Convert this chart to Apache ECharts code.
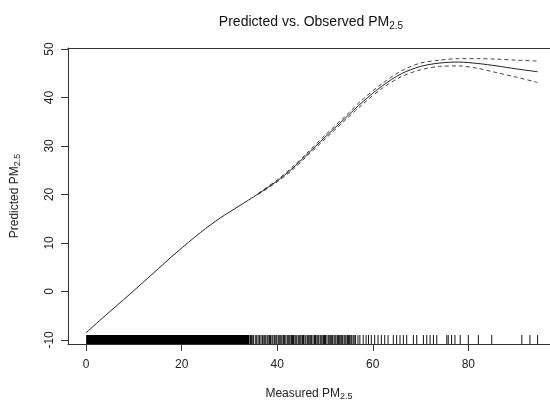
<!DOCTYPE html>
<html>
<head>
<meta charset="utf-8">
<script src="https://cdn.jsdelivr.net/npm/echarts@6/dist/echarts.min.js"></script>
<style>
  html, body { margin: 0; padding: 0; background: #fff; }
  #chart { width: 550px; height: 406px; }
</style>
</head>
<body>
<div id="chart"></div>
<script>
// smooth fit of predicted vs measured PM2.5
const fitX = [0, 4, 9, 14, 19, 24, 28, 32, 36, 40, 43, 46, 50, 54, 58, 62, 66, 70, 74, 78, 82, 86, 90, 94.5]
const fitY = [-8.5, -5.0, -0.7, 3.7, 8.1, 12.2, 15.1, 17.6, 20.1, 22.8, 25.2, 28.0, 31.8, 35.5, 39.2, 42.4, 44.9, 46.4, 47.1, 47.3, 47.0, 46.5, 45.9, 45.3]

// confidence band (dashed), only visible apart from the fit above ~36
const ciX = [36, 40, 43, 46, 50, 54, 58, 62, 66, 70, 74, 78, 82, 86, 90, 94.5]
const ciUpper = [20.2, 23.0, 25.5, 28.3, 32.2, 35.9, 39.7, 42.9, 45.5, 47.1, 47.7, 48.0, 48.0, 47.9, 47.7, 47.5]
const ciLower = [20.0, 22.6, 24.9, 27.7, 31.4, 35.1, 38.7, 41.9, 44.3, 45.7, 46.4, 46.5, 46.0, 45.1, 44.2, 43.1]

// rug of measured values: solid block where it is too dense to tell apart, then single ticks
const rugBand = [[0, 34.2]]
const rugTicks = [34.4, 34.6, 34.9, 35.0, 35.4, 35.7, 36.0, 36.3, 36.6, 36.9, 37.2, 37.4, 37.6, 37.9, 38.1, 38.4, 38.6, 38.9, 39.1, 39.4, 39.7, 39.9, 40.2, 40.4, 40.6, 40.8, 41.0, 41.3, 41.5, 41.8, 42.1, 42.3, 42.5, 42.7, 43.0, 43.2, 43.4, 43.7, 43.9, 44.1, 44.4, 44.6, 44.8, 45.0, 45.3, 45.5, 45.8, 46.0, 46.3, 46.5, 46.7, 47.0, 47.2, 47.5, 47.8, 48.0, 48.3, 48.5, 48.7, 49.0, 49.2, 49.4, 49.7, 49.9, 50.1, 50.4, 50.7, 51.0, 51.2, 51.4, 51.6, 51.9, 52.1, 52.3, 52.6, 52.8, 53.0, 53.3, 53.5, 53.7, 54.0, 54.2, 54.4, 54.7, 54.9, 55.1, 55.4, 55.6, 55.9, 56.1, 56.4, 56.9, 57.3, 58.0, 58.6, 59.1, 59.7, 60.4, 61.1, 61.8, 62.5, 63.2, 64.3, 65.0, 65.7, 66.4, 67.1, 68.5, 69.2, 70.6, 71.3, 72.0, 72.7, 73.4, 75.5, 75.8, 76.5, 77.2, 78.3, 80.0, 82.1, 84.9, 91.2, 92.9, 94.5]
const rugRange = [-10.85, -9.0]

const xTicks = [0, 20, 40, 60, 80]
const yTicks = [-10, 0, 10, 20, 30, 40, 50]

const chart = echarts.init(document.getElementById('chart'))

const axisColor = '#333'
const font = 'Liberation Sans, Arial, sans-serif'

const option = {
  animation: false,
  backgroundColor: '#fff',
  textStyle: { fontFamily: font },
  title: {
    text: 'Predicted vs. Observed PM{sub|2.5}',
    left: 306,
    top: 9,
    textAlign: 'center',
    textStyle: {
      fontFamily: font,
      fontSize: 14,
      fontWeight: 'normal',
      color: '#111',
      rich: {
        sub: { fontSize: 10, fontFamily: font, color: '#111', padding: [7, 0, 0, 0] }
      }
    }
  },
  grid: { left: 68, right: 0, top: 48, bottom: 58 },
  xAxis: [{
    type: 'value',
    min: -3.8,
    max: 97.1,
    splitLine: { show: false },
    axisLine: { show: true, onZero: false, lineStyle: { color: axisColor, width: 1 } },
    axisTick: { show: true, length: 7, customValues: xTicks, lineStyle: { color: axisColor } },
    axisLabel: { customValues: xTicks, margin: 15, fontSize: 12, color: '#222', fontFamily: font },
    name: 'Measured PM{sub|2.5}',
    nameLocation: 'middle',
    nameGap: 42,
    nameTextStyle: {
      fontSize: 12, color: '#222', fontFamily: font,
      rich: { sub: { fontSize: 9, fontFamily: font, color: '#222', padding: [6, 0, 0, 0] } }
    }
  }, {
    type: 'value',
    position: 'top',
    min: -3.8,
    max: 97.1,
    splitLine: { show: false },
    axisLine: { show: true, onZero: false, lineStyle: { color: axisColor, width: 1 } },
    axisTick: { show: false },
    axisLabel: { show: false }
  }],
  yAxis: {
    type: 'value',
    min: rugRange[0],
    max: 50.2,
    splitLine: { show: false },
    axisLine: { show: true, onZero: false, lineStyle: { color: axisColor, width: 1 } },
    axisTick: { show: true, length: 7, customValues: yTicks, lineStyle: { color: axisColor } },
    axisLabel: { customValues: yTicks, rotate: 90, margin: 12, fontSize: 12, color: '#222', fontFamily: font },
    name: 'Predicted PM{sub|2.5}',
    nameLocation: 'middle',
    nameGap: 46,
    nameRotate: 90,
    nameTextStyle: {
      fontSize: 12, color: '#222', fontFamily: font,
      rich: { sub: { fontSize: 9, fontFamily: font, color: '#222', padding: [6, 0, 0, 0] } }
    }
  },
  series: [
    {
      type: 'line',
      data: fitX.map((x, i) => [x, fitY[i]]),
      smooth: 0.3,
      showSymbol: false,
      lineStyle: { color: '#222', width: 1 },
      z: 3
    },
    {
      type: 'line',
      data: ciX.map((x, i) => [x, ciUpper[i]]),
      smooth: 0.3,
      showSymbol: false,
      lineStyle: { color: '#444', width: 1, type: [4, 3] },
      z: 2
    },
    {
      type: 'line',
      data: ciX.map((x, i) => [x, ciLower[i]]),
      smooth: 0.3,
      showSymbol: false,
      lineStyle: { color: '#444', width: 1, type: [4, 3] },
      z: 2
    },
    {
      type: 'custom',
      data: rugBand,
      renderItem: (params, api) => {
        const a = api.coord([api.value(0), rugRange[1]])
        const b = api.coord([api.value(1), rugRange[0]])
        return {
          type: 'rect',
          shape: { x: a[0], y: a[1], width: b[0] - a[0], height: b[1] - a[1] },
          style: { fill: '#000' }
        }
      },
      silent: true
    },
    {
      type: 'custom',
      data: rugTicks.map(v => [v]),
      renderItem: (params, api) => {
        const a = api.coord([api.value(0), rugRange[1]])
        const b = api.coord([api.value(0), rugRange[0]])
        return {
          type: 'line',
          shape: { x1: a[0], y1: a[1], x2: b[0], y2: b[1] },
          style: { stroke: '#111', lineWidth: 1 }
        }
      },
      silent: true
    }
  ]
}

chart.setOption(option)
</script>
</body>
</html>
